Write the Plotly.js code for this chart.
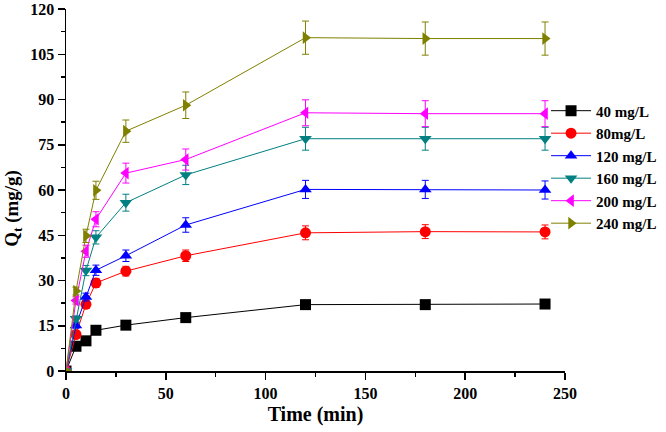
<!DOCTYPE html>
<html>
<head>
<meta charset="utf-8">
<script src="https://cdn.plot.ly/plotly-3.0.1.min.js"></script>
<style>html,body{margin:0;padding:0;background:#fff;}#chart{width:666px;height:432px;}</style>
</head>
<body>
<div id="chart"></div>
<script>
const time = [0, 5, 10, 15, 30, 60, 120, 180, 240];
const seriesNames = ["40 mg/L", "80mg/L", "120 mg/L", "160 mg/L", "200 mg/L", "240 mg/L"];
const q40 = [0, 8.2, 10.0, 13.5, 15.2, 17.7, 22.0, 22.0, 22.2];
const q80 = [0, 12.1, 22.1, 29.2, 33.1, 38.2, 45.8, 46.2, 46.1];
const q120 = [0, 15.1, 24.5, 33.4, 38.2, 48.4, 60.2, 60.2, 60.0];
const q160 = [0, 17.3, 33.3, 44.3, 55.8, 65.0, 77.0, 77.0, 77.0];
const q200 = [0, 23.4, 39.7, 50.3, 65.6, 70.1, 85.6, 85.3, 85.3];
const q240 = [0, 26.5, 44.8, 59.9, 79.5, 88.1, 110.5, 110.2, 110.2];
const e40 = [0, 0.6, 0.7, 0.9, 0.9, 1.0, 1.1, 1.1, 1.1];
const e80 = [0, 0.9, 1.2, 1.5, 1.6, 1.9, 2.3, 2.3, 2.3];
const e120 = [0, 0.9, 1.3, 1.7, 1.9, 2.4, 3.0, 3.0, 3.0];
const e160 = [0, 1.0, 1.7, 2.2, 2.8, 3.2, 3.8, 3.8, 3.8];
const e200 = [0, 1.2, 2.0, 2.5, 3.3, 3.5, 4.3, 4.3, 4.3];
const e240 = [0, 1.3, 2.2, 3.0, 3.7, 4.4, 5.5, 5.5, 5.5];
const yTitle = "Q<sub>t</sub> (mg/g)";
const xTitle = "Time (min)";

const values = [q40, q80, q120, q160, q200, q240];
const errors = [e40, e80, e120, e160, e200, e240];
const colors = ["#000000", "#FF0000", "#0000FF", "#008080", "#FF00FF", "#808000"];
const symbols = ["square", "circle", "triangle-up", "triangle-down", "triangle-left", "triangle-right"];

const traces = values.map((v, i) => ({
  x: time,
  y: v,
  name: seriesNames[i],
  type: "scatter",
  mode: "lines+markers",
  line: {color: colors[i], width: 1},
  marker: {color: colors[i], symbol: symbols[i], size: 11},
  error_y: {type: "data", array: errors[i], visible: true, color: colors[i], thickness: 1, width: 3.5}
}));

const fontFam = "Liberation Serif, Times New Roman, serif";
const layout = {
  width: 666,
  height: 432,
  margin: {l: 66, r: 101, t: 9, b: 61, autoexpand: false},
  paper_bgcolor: "#fff",
  plot_bgcolor: "#fff",
  showlegend: true,
  legend: {
    x: 0.962, y: 0.764, xanchor: "left", yanchor: "top",
    bgcolor: "rgba(0,0,0,0)",
    font: {family: fontFam, size: 15, color: "#000", weight: "bold"},
    itemwidth: 40,
    tracegroupgap: 0
  },
  xaxis: {
    range: [0, 250],
    dtick: 50, tick0: 0,
    ticks: "outside", ticklen: 7, tickwidth: 1.5, tickcolor: "#000",
    minor: {dtick: 25, ticks: "outside", ticklen: 4, tickwidth: 1.5, tickcolor: "#000"},
    showline: true, linewidth: 1.5, linecolor: "#000",
    showgrid: false, zeroline: false,
    tickfont: {family: fontFam, size: 16, color: "#000", weight: "bold"},
    title: {text: xTitle, font: {family: fontFam, size: 20, color: "#000", weight: "bold"}, standoff: 6}
  },
  yaxis: {
    range: [0, 120],
    dtick: 15, tick0: 0,
    ticks: "outside", ticklen: 7, tickwidth: 1.5, tickcolor: "#000",
    minor: {dtick: 7.5, ticks: "outside", ticklen: 4, tickwidth: 1.5, tickcolor: "#000"},
    showline: true, linewidth: 1.5, linecolor: "#000",
    showgrid: false, zeroline: false,
    tickfont: {family: fontFam, size: 16, color: "#000", weight: "bold"},
    title: {text: ""}
  },
  annotations: [{
    text: yTitle,
    xref: "paper", yref: "paper",
    x: 0, y: 0.448, xanchor: "center", yanchor: "middle",
    xshift: -53,
    textangle: -90,
    showarrow: false,
    font: {family: fontFam, size: 19, color: "#000", weight: "bold"}
  }]
};

Plotly.newPlot("chart", traces, layout, {displayModeBar: false, staticPlot: true});
</script>
</body>
</html>
